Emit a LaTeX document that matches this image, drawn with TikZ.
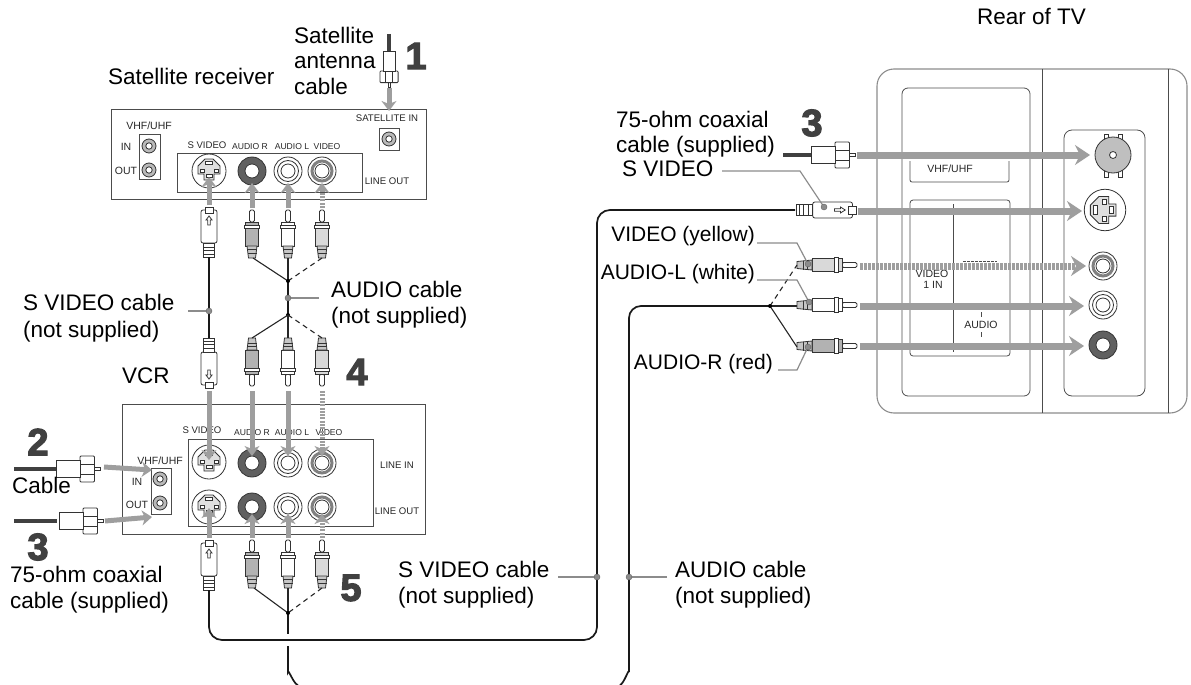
\documentclass[tikz,border=0pt]{standalone}
\usepackage{fontspec}
\setmainfont{Liberation Sans}
\newfontfamily\numfont[FakeBold=3]{Liberation Sans Bold}
\usetikzlibrary{arrows.meta}
\definecolor{dither}{gray}{0.62}
\definecolor{darkd}{gray}{0.25}
\definecolor{lead}{gray}{0.55}
\definecolor{panel}{gray}{0.3}
\tikzset{
  big/.style={font=\fontsize{22.5}{25}\selectfont,anchor=mid west,inner sep=0},
  bigr/.style={font=\fontsize{21}{25}\selectfont,anchor=mid east,inner sep=0},
  tiny/.style={font=\fontsize{9.6}{12}\selectfont,inner sep=0,text=black!85},
  vhf/.style={font=\fontsize{10.5}{12}\selectfont,inner sep=0,text=black!85},
  tinier/.style={font=\fontsize{8.6}{11}\selectfont,inner sep=0,text=black!85},
  numeral/.style={font=\numfont\fontsize{38}{40}\selectfont,text=darkd,inner sep=0},
  boxl/.style={draw=panel,line width=0.9pt},
  jk/.style={draw=black!80,line width=0.8pt},
  tvline/.style={draw=black!70,line width=0.8pt},
  tvdot/.style={draw=lead,line width=1.1pt},
  coaxc/.style={draw=darkd,line width=4.5pt},
  wire/.style={draw=black!90,line width=1.7pt},
  branch/.style={draw=black!85,line width=1.1pt},
  dbranch/.style={branch,dash pattern=on 5pt off 4pt},
  gaS/.style={draw=dither,line width=5pt,-{Stealth[length=10pt,width=15pt,inset=3pt]}},
  gaV/.style={gaS,dash pattern=on 2pt off 1.3pt},
  gaL/.style={draw=dither,line width=7pt,-{Stealth[length=15pt,width=20pt,inset=5pt]}},
  gaD/.style={gaL,dash pattern=on 2.5pt off 1.5pt},
  leader/.style={draw=lead,line width=1.2pt},
  ldot/.style={fill=lead,draw=lead!70!black,line width=0.4pt},
  jdot/.style={fill=black},
  pics/jackw/.style={code={
    \draw[jk,fill=white] (0,0) circle (14); \draw[jk] (0,0) circle (10.5); \draw[jk] (0,0) circle (7);}},
  pics/jackr/.style={code={
    \draw[jk,fill=gray!75!black] (0,0) circle (14); \draw[jk,fill=white] (0,0) circle (7);}},
  pics/jackv/.style={code={
    \draw[jk,fill=white] (0,0) circle (14); \draw[draw=gray,line width=3pt] (0,0) circle (10); \draw[jk,fill=white] (0,0) circle (7);}},
  pics/fjack/.style={code={
    \draw[jk,fill=gray!55] (0,0) circle (7); \draw[jk,fill=white] (0,0) circle (3.2);}},
  pics/sjack/.style={code={
    \draw[jk,fill=white] (0,0) circle (17);
    \draw[jk,fill=gray!25] (-11,-5) -- (-4,-12) -- (4,-12) -- (11,-5) -- (11,3) -- (5,3) -- (5,9) -- (-5,9) -- (-5,3) -- (-11,3) -- cycle;
    \draw[jk,fill=white] (-3.5,-9.5) rectangle (3.5,-6.5);
    \draw[jk,fill=white] (-9,-2) rectangle (-5,1);
    \draw[jk,fill=white] (5,-2) rectangle (9,1);
    \draw[jk,fill=white] (-3,3.5) rectangle (3,6.5);}},
  pics/rca/.style={code={
    \draw[jk,fill=white,rounded corners=1.5pt] (-2.5,0) -- (-2.5,12) -- (2.5,12) -- (2.5,0) -- cycle;
    \draw[jk,fill=#1] (-6.5,12) rectangle (6.5,36);
    \draw[jk,fill=white] (-7.5,15) rectangle (7.5,18);
    \draw[jk,fill=gray!45] (-5,36) -- (5,36) -- (3.5,48) -- (-3.5,48) -- cycle;
    \draw[jk] (-5,39.5) -- (5,39.5) (-4.5,43) -- (4.5,43);}},
  pics/splug/.style={code={
    \draw[jk,fill=white,rounded corners=2pt] (-8,3) rectangle (8,36);
    \draw[jk,fill=white] (-4,0) rectangle (4,6);
    \draw[jk] (0,9) -- (3,13) -- (1.3,13) -- (1.3,18) -- (-1.3,18) -- (-1.3,13) -- (-3,13) -- cycle;
    \draw[jk,fill=white] (-5.5,36) rectangle (5.5,50);
    \draw[jk] (-5.5,40) -- (5.5,40) (-5.5,43.5) -- (5.5,43.5) (-5.5,47) -- (5.5,47);}},
  pics/coax/.style={code={
    \draw[jk,fill=white] (-5.5,-1.5) rectangle (0,1.5);
    \draw[jk,fill=white,rounded corners=1pt] (-20,-13) rectangle (-5.5,13);
    \draw[jk] (-20,-5) -- (-5.5,-5) (-20,5) -- (-5.5,5);
    \draw[jk,fill=white] (-44,-8.5) rectangle (-20,8.5);}}
}
\begin{document}
\begin{tikzpicture}[x=1pt,y=-1pt]
\useasboundingbox (0,0) rectangle (1191,685);
% ---- TV
\draw[tvdot,rounded corners=17pt] (877,69) rectangle (1187,413);
\draw[tvline] (1042,69) -- (1042,413) (1168,69) -- (1168,413);
\draw[tvline,rounded corners=6pt] (902,88) rectangle (1030,396);
\draw[tvline,rounded corners=2pt] (910,161) -- (910,182) -- (1009,182) -- (1009,161);
\draw[tvline,rounded corners=3pt] (910,200) rectangle (1010,356);
\draw[tvline] (953,204) -- (953,352);
\draw[tvline] (981,312) -- (981,317) (981,332) -- (981,337);
\draw[tvline,dash pattern=on 3pt off 1pt] (963,261) -- (997,261);
\node[vhf] (tvhf) at (950,169) {VHF/UHF};
\node[vhf] (tvid) at (932,274) {VIDEO};
\node[vhf] (t1in) at (933,285) {1 IN};
\node[vhf] (taud) at (981,325) {AUDIO};
\draw[tvline,rounded corners=8pt] (1064,130) rectangle (1145,396);
\coordinate (TVf) at (1113,155);
\coordinate (TVs) at (1105,210);
\coordinate (TVv) at (1103,266);
\coordinate (TVl) at (1103,305);
\coordinate (TVr) at (1103,345);
\draw[jk,fill=white] (1104,134) rectangle (1108,142) (1118,134) rectangle (1122,142) (1104,168) rectangle (1108,177) (1118,168) rectangle (1122,177);
\draw[jk,fill=gray!50] (TVf) circle (18);
\draw[jk,fill=white] (TVf) circle (3.5);
\pic[rotate=90,scale=1.22] at (TVs) {sjack};
\pic at (TVv) {jackv};
\pic at (TVl) {jackw};
\pic at (TVr) {jackr};
% ---- Satellite receiver
\draw[boxl] (111,109) rectangle (426,199);
\draw[boxl] (139,134) rectangle (160,179);
\draw[boxl] (177,153) rectangle (362,192);
\draw[boxl] (379,128) rectangle (399,150);
\node[vhf] (s1) at (149,126) {VHF/UHF};
\node[vhf] (s2) at (126,147) {IN};
\node[vhf] (s3) at (126,171) {OUT};
\node[tiny] (s4) at (207,145) {S VIDEO};
\node[tinier] (s5) at (250,147) {AUDIO R};
\node[tinier] (s6) at (292,147) {AUDIO L};
\node[tinier] (s7) at (327,147) {VIDEO};
\node[tiny] (s8) at (387,181) {LINE OUT};
\node[tiny] (s9) at (387,118) {SATELLITE IN};
\pic at (149,146) {fjack};
\pic at (149,170) {fjack};
\pic at (389,139) {fjack};
\coordinate (SAs) at (209,177);
\coordinate (SAr) at (252,183);
\coordinate (SAl) at (288,183);
\coordinate (SAv) at (322,183);
\coordinate (SAt) at (389,111);
\pic at (209,171) {sjack};
\pic at (252,171) {jackr};
\pic at (288,171) {jackw};
\pic at (322,171) {jackv};
\node[big] (a1) at (294,41) {Satellite};
\node[big] (a2) at (294,66) {antenna};
\node[big] (a3) at (294,92) {cable};
\node[big] (a4) at (108,82) {Satellite receiver};
\node[numeral] (n1) at (416,56) {1};
\coordinate (antA) at (389,34);
\coordinate (antB) at (389,53);
\coordinate (antT) at (389,88);
\draw[coaxc] (antA) -- (antB);
\pic[rotate=-90,xscale=0.8,yscale=0.7] at (389,87) {coax};
\draw[gaS] (antT) -- (SAt);
% ---- VCR
\draw[boxl] (122,404) rectangle (425,534);
\draw[boxl] (188,439) rectangle (373,526);
\draw[boxl] (151,468) rectangle (171,514);
\node[vhf] (v1) at (160,461) {VHF/UHF};
\node[vhf] (v2) at (137,482) {IN};
\node[vhf] (v3) at (137,505) {OUT};
\node[tiny] (v4) at (202,430) {S VIDEO};
\node[tinier] (v5) at (252,433) {AUDIO R};
\node[tinier] (v6) at (292,433) {AUDIO L};
\node[tinier] (v7) at (329,433) {VIDEO};
\node[tiny] (v8) at (397,465) {LINE IN};
\node[tiny] (v9) at (397,511) {LINE OUT};
\pic at (160,479) {fjack};
\pic at (160,503) {fjack};
\coordinate (VIs) at (209,460);
\coordinate (VIr) at (252,456);
\coordinate (VIl) at (288,456);
\coordinate (VIv) at (322,456);
\coordinate (VOs) at (209,508);
\coordinate (VOr) at (252,514);
\coordinate (VOl) at (288,514);
\coordinate (VOv) at (322,514);
\pic at (209,462) {sjack};
\pic at (252,463) {jackr};
\pic at (288,463) {jackw};
\pic at (322,463) {jackv};
\pic at (209,507) {sjack};
\pic at (252,507) {jackr};
\pic at (288,507) {jackw};
\pic at (322,507) {jackv};
\node[big] (b1) at (122,381) {VCR};
\node[numeral] (n4) at (357,372) {4};
\node[numeral] (n2) at (38,442) {2};
\node[numeral] (n3a) at (38,547) {3};
\node[numeral] (n5) at (351,588) {5};
\node[numeral] (n3b) at (812,123) {3};
% left coax feeds
\coordinate (c2a) at (14,469);
\coordinate (c2b) at (57,469);
\coordinate (c2t) at (104,467);
\coordinate (c2j) at (152,470);
\coordinate (c3a) at (14,521);
\coordinate (c3b) at (57,521);
\coordinate (c3t) at (105,521);
\coordinate (c3j) at (152,517);
\draw[coaxc] (c2a) -- (c2b);
\draw[coaxc] (c3a) -- (c3b);
\pic at (100,469) {coax};
\pic at (103,521) {coax};
\draw[gaS] (c2t) -- (c2j);
\draw[gaS] (c3t) -- (c3j);
\node[big] (b2) at (12,491) {Cable};
\node[big] (b3) at (10,580) {75-ohm coaxial};
\node[big] (b4) at (10,606) {cable (supplied)};
% ---- plugs receiver side
\coordinate (P1s) at (209,257);
\coordinate (P1r) at (253,258);
\coordinate (P1l) at (288,258);
\coordinate (P1v) at (322,258);
\pic at (209,207) {splug};
\pic at (252,210) {rca=gray!60};
\pic at (288,210) {rca=white};
\pic at (322,210) {rca=gray!30};
\coordinate (J1) at (288,281);
\coordinate (J2) at (288,315);
\draw[branch] (P1r) -- (J1);
\draw[branch] (P1l) -- (J1);
\draw[dbranch] (P1v) -- (J1);
\draw[wire] (J1) -- (J2);
\fill[jdot] (J1) circle (2); \fill[jdot] (J2) circle (2);
\coordinate (P2s) at (209,338);
\coordinate (P2r) at (252,338);
\coordinate (P2l) at (288,338);
\coordinate (P2v) at (322,338);
\pic[rotate=180] at (209,388) {splug};
\pic[rotate=180] at (252,386) {rca=gray!60};
\pic[rotate=180] at (288,386) {rca=white};
\pic[rotate=180] at (322,386) {rca=gray!30};
\draw[branch] (J2) -- (P2r);
\draw[branch] (J2) -- (P2l);
\draw[dbranch] (J2) -- (P2v);
\draw[wire] (P1s) -- (P2s);
% ---- VCR out plugs
\coordinate (P3s) at (209,590);
\coordinate (P3r) at (254,588);
\coordinate (P3l) at (288,588);
\coordinate (P3v) at (322,588);
\pic at (209,540) {splug};
\pic at (252,540) {rca=gray!60};
\pic at (288,540) {rca=white};
\pic at (322,540) {rca=gray!30};
\coordinate (J3) at (288,613);
\coordinate (J3e) at (288,634);
\coordinate (J4s) at (288,646);
\coordinate (J4m) at (288,672);
\coordinate (J4e) at (298,685);
\draw[branch] (P3r) -- (J3);
\draw[branch] (P3l) -- (J3);
\draw[dbranch] (P3v) -- (J3);
\draw[wire] (J3) -- (J3e);
\fill[jdot] (J3) circle (2);
\draw[wire] (J4s) -- (J4m) to[out=90,in=180,looseness=0.6] (J4e);
% ---- TV side plugs
\coordinate (Ts) at (795,210);
\coordinate (Tv) at (797,265);
\coordinate (Tl) at (797,306);
\coordinate (Tr) at (797,347);
\coordinate (TJ) at (770,306);
\pic[rotate=-90,yscale=1.2] at (856,210) {splug};
\pic[rotate=-90,yscale=1.25] at (857,265) {rca=gray!30};
\pic[rotate=-90,yscale=1.25] at (857,305) {rca=white};
\pic[rotate=-90,yscale=1.25] at (857,346) {rca=gray!60};
\coordinate (ca) at (783,155);
\coordinate (cb) at (811,155);
\draw[coaxc] (ca) -- (cb);
\pic at (855,155) {coax};
\coordinate (sc1) at (209,640);
\coordinate (sc2) at (597,640);
\coordinate (sc3) at (597,210);
\draw[wire,rounded corners=13pt] (P3s) -- (sc1) -- (sc2) -- (sc3) -- (Ts);
\coordinate (ac1) at (629,306);
\coordinate (ac2) at (629,672);
\coordinate (ac3) at (620,685);
\draw[wire,rounded corners=12pt] (TJ) -- (ac1) -- (ac2);
\draw[wire] (ac2) to[out=90,in=20,looseness=0.7] (ac3);
\draw[branch] (TJ) -- (Tl);
\draw[branch] (TJ) -- (Tr);
\draw[dbranch] (TJ) -- (Tv);
\fill[jdot] (TJ) circle (2);
% ---- grey arrows
\coordinate (a1s) at (209,205); \draw[gaS] (a1s) -- (SAs);
\coordinate (a1r) at (252,208); \draw[gaS] (a1r) -- (SAr);
\coordinate (a1l) at (288,208); \draw[gaS] (a1l) -- (SAl);
\coordinate (a1v) at (322,208); \draw[gaV] (a1v) -- (SAv);
\coordinate (a2s) at (209,391); \draw[gaS] (a2s) -- (VIs);
\coordinate (a2r) at (252,391); \draw[gaS] (a2r) -- (VIr);
\coordinate (a2l) at (288,391); \draw[gaS] (a2l) -- (VIl);
\coordinate (a2v) at (322,391); \draw[gaV] (a2v) -- (VIv);
\coordinate (a3s) at (209,538); \draw[gaS] (a3s) -- (VOs);
\coordinate (a3r) at (252,538); \draw[gaS] (a3r) -- (VOr);
\coordinate (a3l) at (288,538); \draw[gaS] (a3l) -- (VOl);
\coordinate (a3v) at (322,538); \draw[gaV] (a3v) -- (VOv);
\coordinate (tf1) at (857,155); \coordinate (tf2) at (1090,155); \draw[gaL] (tf1) -- (tf2);
\coordinate (ts1) at (858,211); \coordinate (ts2) at (1082,211); \draw[gaL] (ts1) -- (ts2);
\coordinate (tv1) at (860,266); \coordinate (tv2) at (1086,266); \draw[gaD] (tv1) -- (tv2);
\coordinate (tl1) at (860,306); \coordinate (tl2) at (1084,306); \draw[gaL] (tl1) -- (tl2);
\coordinate (tr1) at (860,346); \coordinate (tr2) at (1084,346); \draw[gaL] (tr1) -- (tr2);
% ---- labels and leaders
\node[big] (l1) at (23,308) {S VIDEO cable};
\node[big] (l2) at (23,335) {(not supplied)};
\node[big] (l3) at (331,295) {AUDIO cable};
\node[big] (l4) at (331,321) {(not supplied)};
\node[big] (l5) at (398,575) {S VIDEO cable};
\node[big] (l6) at (398,601) {(not supplied)};
\node[big] (l7) at (675,575) {AUDIO cable};
\node[big] (l8) at (675,601) {(not supplied)};
\node[big] (r1) at (616,125) {75-ohm coaxial};
\node[big] (r2) at (616,150) {cable (supplied)};
\node[big] (r3) at (622,174) {S VIDEO};
\node[bigr] (r4) at (755,239) {VIDEO (yellow)};
\node[bigr] (r5) at (755,277) {AUDIO-L (white)};
\node[bigr] (r6) at (773,367) {AUDIO-R (red)};
\node[big] (r7) at (977,22) {Rear of TV};
\coordinate (q1a) at (188,311); \coordinate (q1b) at (209,311);
\coordinate (q2a) at (319,298); \coordinate (q2b) at (288,298);
\coordinate (q3a) at (558,577); \coordinate (q3b) at (597,577);
\coordinate (q4a) at (667,577); \coordinate (q4b) at (629,577);
\coordinate (q5a) at (722,171); \coordinate (q5m) at (800,171); \coordinate (q5b) at (824,207);
\coordinate (q6a) at (757,243); \coordinate (q6m) at (797,243); \coordinate (q6b) at (808,264);
\coordinate (q7a) at (757,280); \coordinate (q7m) at (797,280); \coordinate (q7b) at (809,302);
\coordinate (q8a) at (778,370); \coordinate (q8m) at (797,370); \coordinate (q8b) at (808,347);
\draw[leader] (q1a) -- (q1b); \fill[ldot] (q1b) circle (3);
\draw[leader] (q2a) -- (q2b); \fill[ldot] (q2b) circle (3);
\draw[leader] (q3a) -- (q3b); \fill[ldot] (q3b) circle (3);
\draw[leader] (q4a) -- (q4b); \fill[ldot] (q4b) circle (3);
\draw[leader] (q5a) -- (q5m) -- (q5b); \fill[ldot] (q5b) circle (3);
\draw[leader] (q6a) -- (q6m) -- (q6b); \fill[ldot] (q6b) circle (3);
\draw[leader] (q7a) -- (q7m) -- (q7b); \fill[ldot] (q7b) circle (3);
\draw[leader] (q8a) -- (q8m) -- (q8b); \fill[ldot] (q8b) circle (3);
\end{tikzpicture}
\end{document}
